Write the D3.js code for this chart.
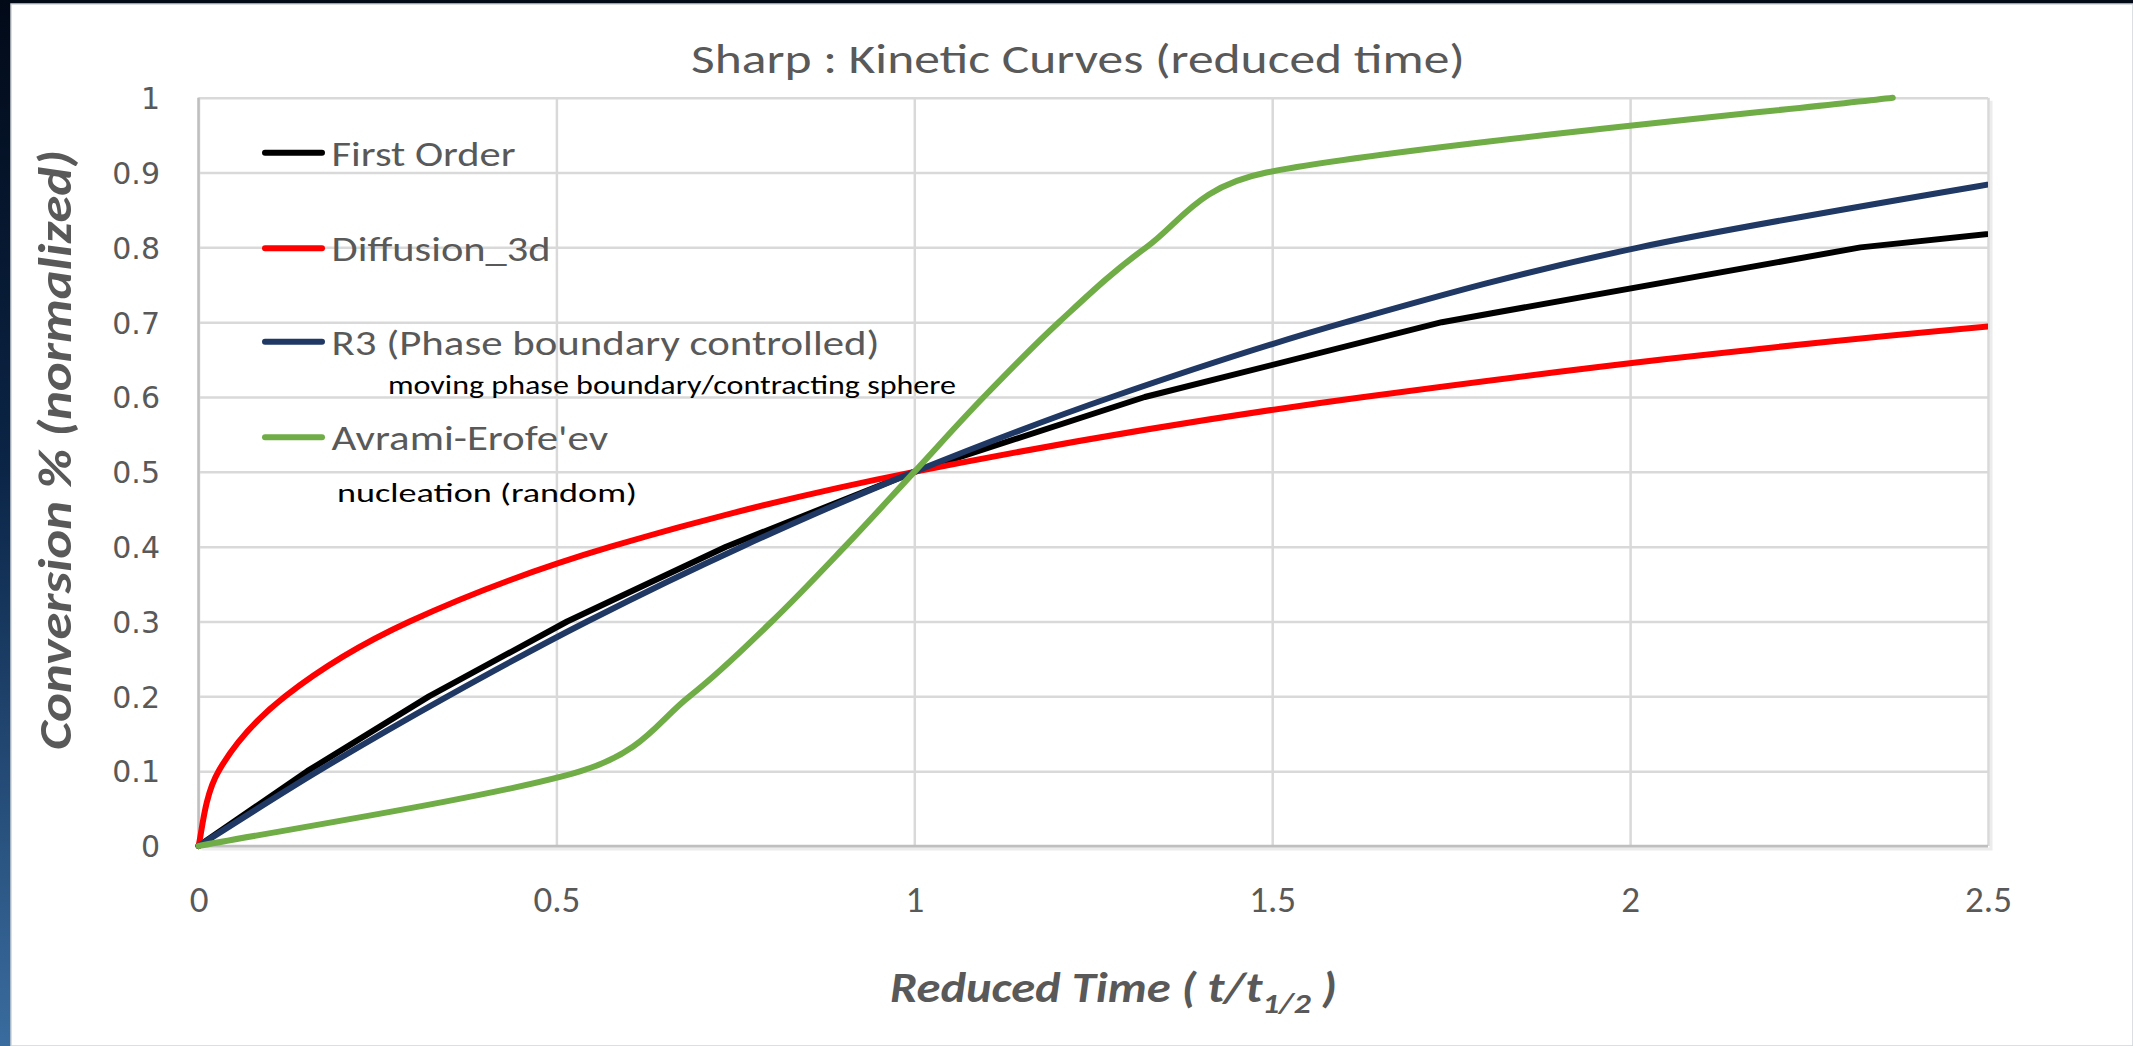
<!DOCTYPE html>
<html>
<head>
<meta charset="utf-8">
<script src="https://cdn.jsdelivr.net/npm/d3@7"></script>
<style>
  html, body { margin: 0; padding: 0; overflow: hidden; background: #020c1c; }
  svg { display: block; }
</style>
</head>
<body>
<svg id="chart" width="2133" height="1046"></svg>
<script>
// ---- Data: reduced time (t / t1/2) against conversion for each mechanism ----
const firstOrderTime = [0, 0.152, 0.322, 0.515, 0.737, 1.0, 1.322, 1.737, 2.322, 3.322];
const firstOrderConv = [0, 0.1, 0.2, 0.3, 0.4, 0.5, 0.6, 0.7, 0.8, 0.9];

const diffusionTime = [0, 0.028, 0.121, 0.295, 0.576, 1.0, 1.628, 2.568, 4.05];
const diffusionConv = [0, 0.1, 0.2, 0.3, 0.4, 0.5, 0.6, 0.7, 0.8];

const r3Time = [0, 0.167, 0.348, 0.543, 0.759, 1.0, 1.276, 1.603, 2.013, 2.597];
const r3Conv = [0, 0.1, 0.2, 0.3, 0.4, 0.5, 0.6, 0.7, 0.8, 0.9];

const avramiTime = [0, 0.534, 0.686, 0.801, 0.903, 1.0, 1.097, 1.202, 1.324, 1.492, 2.367];
const avramiConv = [0, 0.1, 0.2, 0.3, 0.4, 0.5, 0.6, 0.7, 0.8, 0.9, 1.0];

const seriesNames = ["First Order", "Diffusion_3d", "R3 (Phase boundary controlled)", "Avrami-Erofe'ev"];
const seriesColors = ["#000000", "#ff0000", "#203864", "#70ad47"];
const seriesSmooth = [false, true, true, true];
const seriesNotes = ["", "", "moving phase boundary/contracting sphere", "nucleation (random)"];

const xTicks = [0, 0.5, 1, 1.5, 2, 2.5];
const yTicks = [0, 0.1, 0.2, 0.3, 0.4, 0.5, 0.6, 0.7, 0.8, 0.9, 1];

const chartTitle = "Sharp : Kinetic Curves (reduced time)";
const yTitle = "Conversion % (normalized)";

// ---- Layout ----
const W = 2133, H = 1046;
const plot = { left: 198.5, right: 1988, top: 97.7, bottom: 846 };
const uiFont = "Carlito, Lato, 'Open Sans', sans-serif";
const tickFont = "'DejaVu Sans', Verdana, sans-serif";
const grey = "#595959";

const svg = d3.select("#chart");

// backdrop: dark slide background with the white chart panel on top
const defs = svg.append("defs");
const bg = defs.append("linearGradient").attr("id", "bgGrad")
  .attr("x1", 0).attr("y1", 0).attr("x2", 0).attr("y2", 1);
bg.append("stop").attr("offset", 0).attr("stop-color", "#020a18");
bg.append("stop").attr("offset", 0.45).attr("stop-color", "#0b2547");
bg.append("stop").attr("offset", 1).attr("stop-color", "#3a6c9f");
svg.append("rect").attr("width", W).attr("height", H).attr("fill", "url(#bgGrad)");
svg.append("rect").attr("x", 11).attr("y", 4).attr("width", W - 11).attr("height", H - 4)
  .attr("fill", "#ffffff").attr("stroke", "#cfd3d8").attr("stroke-width", 1.5);

defs.append("clipPath").attr("id", "plotClip").append("rect")
  .attr("x", plot.left - 4).attr("y", plot.top - 12)
  .attr("width", plot.right - plot.left + 4).attr("height", plot.bottom - plot.top + 24);

const x = d3.scaleLinear().domain([0, 2.5]).range([plot.left, plot.right]);
const y = d3.scaleLinear().domain([0, 1]).range([plot.bottom, plot.top]);
const fmt = d3.format("~g");

// stretch a text element horizontally to a given width
function fitWidth(sel, width) {
  sel.attr("textLength", width).attr("lengthAdjust", "spacingAndGlyphs");
  return sel;
}

// Smoothed line: cubic Bezier through the points with Catmull-Rom style
// tangents (1/6 of the neighbour chord), each handle capped at half of its segment.
function smoothPath(pts) {
  const n = pts.length;
  let d = `M${pts[0][0]},${pts[0][1]}`;
  for (let i = 0; i < n - 1; i++) {
    const p0 = pts[Math.max(i - 1, 0)], p1 = pts[i], p2 = pts[i + 1], p3 = pts[Math.min(i + 2, n - 1)];
    const lim = 0.5 * Math.hypot(p2[0] - p1[0], p2[1] - p1[1]);
    const cap = v => {
      const l = Math.hypot(v[0], v[1]);
      return l > lim ? [v[0] * lim / l, v[1] * lim / l] : v;
    };
    const t1 = cap([(p2[0] - p0[0]) / 6, (p2[1] - p0[1]) / 6]);
    const t2 = cap([(p3[0] - p1[0]) / 6, (p3[1] - p1[1]) / 6]);
    d += `C${p1[0] + t1[0]},${p1[1] + t1[1]} ${p2[0] - t2[0]},${p2[1] - t2[1]} ${p2[0]},${p2[1]}`;
  }
  return d;
}

// faint shadow on the right/bottom of the plot frame
svg.append("path")
  .attr("d", `M${plot.right + 3},${plot.top + 3}V${plot.bottom + 3}H${plot.left + 3}`)
  .attr("fill", "none").attr("stroke", "#ececec").attr("stroke-width", 3);

// ---- Gridlines + tick labels ----
const yAxis = svg.append("g").attr("transform", `translate(${plot.left},0)`)
  .call(d3.axisLeft(y).tickValues(yTicks).tickFormat(fmt)
    .tickSizeInner(-(plot.right - plot.left)).tickSizeOuter(0).tickPadding(38.5));
yAxis.select(".domain").remove();
yAxis.selectAll(".tick line").attr("stroke", "#d9d9d9").attr("stroke-width", 2.5);
yAxis.selectAll(".tick text").attr("fill", grey)
  .style("font-family", tickFont).style("font-size", "30px").attr("dy", "0.36em");

const xAxis = svg.append("g").attr("transform", `translate(0,${plot.bottom})`)
  .call(d3.axisBottom(x).tickValues(xTicks).tickFormat(fmt)
    .tickSizeInner(-(plot.bottom - plot.top)).tickSizeOuter(0).tickPadding(10));
xAxis.select(".domain").remove();
xAxis.selectAll(".tick line").attr("stroke", "#d9d9d9").attr("stroke-width", 2.5);
xAxis.selectAll(".tick text").attr("fill", grey)
  .style("font-family", uiFont).style("font-size", "37px")
  .attr("y", 911.5 - plot.bottom).attr("dy", null);

// axis lines
svg.append("line").attr("x1", x(0)).attr("x2", x(0)).attr("y1", plot.top).attr("y2", plot.bottom)
  .attr("stroke", "#bfbfbf").attr("stroke-width", 2.5);
svg.append("line").attr("x1", plot.left).attr("x2", plot.right).attr("y1", y(0)).attr("y2", y(0))
  .attr("stroke", "#bfbfbf").attr("stroke-width", 2.5);

// ---- Series ----
const series = [
  { time: firstOrderTime, conv: firstOrderConv },
  { time: diffusionTime, conv: diffusionConv },
  { time: r3Time, conv: r3Conv },
  { time: avramiTime, conv: avramiConv }
].map((s, i) => ({
  name: seriesNames[i], color: seriesColors[i], smooth: seriesSmooth[i],
  points: s.time.map((t, j) => [t, s.conv[j]])
}));

const straight = d3.line().x(d => x(d[0])).y(d => y(d[1]));
const lines = svg.append("g").attr("clip-path", "url(#plotClip)");
series.forEach(s => {
  const d = s.smooth ? smoothPath(s.points.map(p => [x(p[0]), y(p[1])])) : straight(s.points);
  lines.append("path").attr("d", d)
    .attr("fill", "none").attr("stroke", s.color).attr("stroke-width", 6)
    .attr("stroke-linejoin", "round").attr("stroke-linecap", "round");
});

// ---- Legend (inside plot, top-left) with mechanism notes ----
const legendRows = [152.7, 248.3, 341.7, 437.3];
const legendWidths = [184, 219, 548, 276.5];
const legend = svg.append("g");
series.forEach((s, i) => {
  legend.append("line").attr("x1", 265).attr("x2", 322)
    .attr("y1", legendRows[i]).attr("y2", legendRows[i])
    .attr("stroke", s.color).attr("stroke-width", 6).attr("stroke-linecap", "round");
  const t = legend.append("text").attr("x", 331.6).attr("y", legendRows[i] + 13)
    .attr("fill", grey).style("font-family", uiFont).style("font-size", "34px")
    .text(s.name);
  fitWidth(t, legendWidths[i]);
});
const notePos = [null, null, { x: 388, y: 394, w: 568 }, { x: 337, y: 502, w: 300 }];
seriesNotes.forEach((note, i) => {
  if (!note) return;
  const p = notePos[i];
  const t = legend.append("text").attr("x", p.x).attr("y", p.y)
    .attr("fill", "#000000").style("font-family", uiFont).style("font-size", "26px")
    .text(note);
  fitWidth(t, p.w);
});

// ---- Titles ----
fitWidth(svg.append("text").attr("x", 691).attr("y", 73)
  .attr("fill", grey).style("font-family", uiFont).style("font-size", "42px")
  .text(chartTitle), 774);

const yt = svg.append("text")
  .attr("transform", `translate(71,450) rotate(-90)`)
  .attr("text-anchor", "middle").attr("fill", grey)
  .style("font-family", uiFont).style("font-size", "47px")
  .style("font-weight", "bold").style("font-style", "italic")
  .text(yTitle);
fitWidth(yt, 600);

// x-axis title with subscript, stretched horizontally to its span
const xtG = svg.append("g");
const xt = xtG.append("text").attr("x", 0).attr("y", 0).attr("fill", grey)
  .style("font-family", uiFont).style("font-size", "42px")
  .style("font-weight", "bold").style("font-style", "italic");
xt.append("tspan").text("Reduced Time ( t/t");
xt.append("tspan").attr("dy", 11).style("font-size", "29px").text("1/2");
xt.append("tspan").attr("dy", -11).text(" )");
const xtw = xt.node().getBBox().width;
xtG.attr("transform", `translate(890,1001.7) scale(${447 / xtw},1)`);
</script>
</body>
</html>
